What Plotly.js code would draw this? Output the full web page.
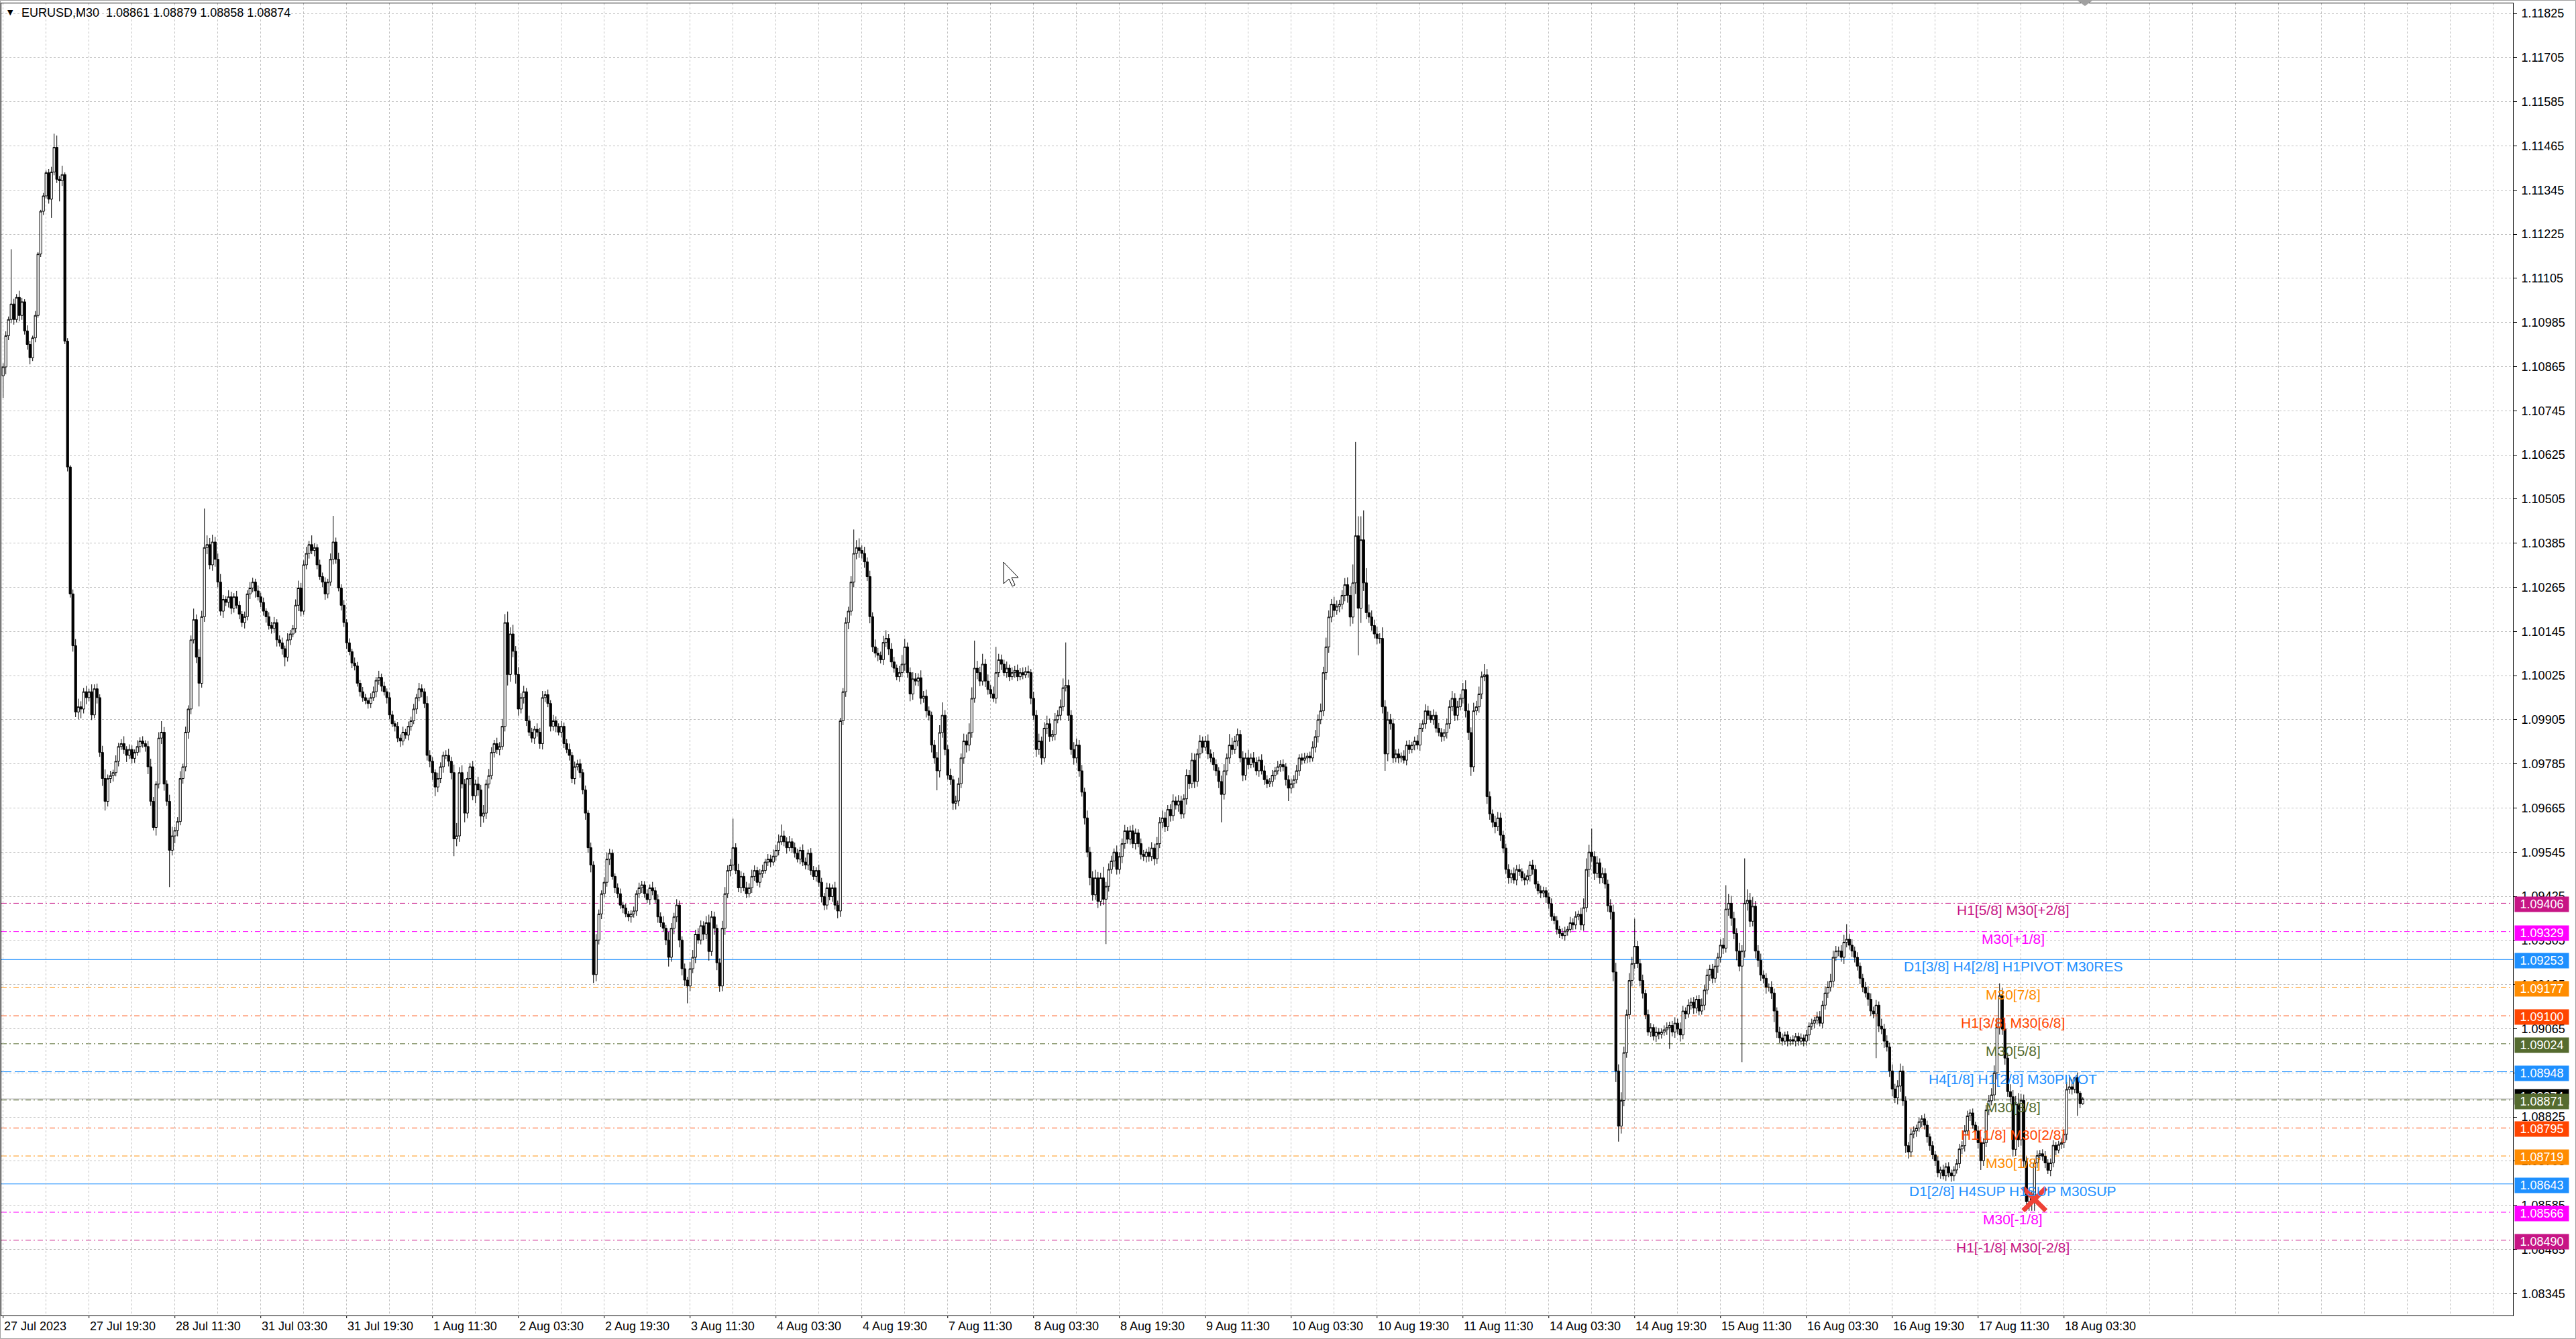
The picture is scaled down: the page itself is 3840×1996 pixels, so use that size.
<!DOCTYPE html>
<html><head><meta charset="utf-8">
<script src="https://cdn.plot.ly/plotly-3.0.1.min.js"></script>
<style>html,body{margin:0;padding:0;background:#fff;overflow:hidden}#chart{width:3840px;height:1996px}</style>
</head><body><div id="chart"></div>
<script>
// ---------------- DATA ----------------
const symbolName = "EURUSD,M30";
const basePrice = 1.08;          // prices below are stored in points (0.00001) above this base
const firstOpenPts = 2840;
// M30 closes, one per bar, 27 Jul 2023 03:30 -> 18 Aug 2023 07:00
const closePts = [
/*0*/2864,2949,2993,3035,2993,3053,3004,3041,2962,2925,
/*10*/2889,2943,3004,3171,3287,3329,3392,3320,3394,3461,
/*20*/3374,3370,3387,2934,2592,2247,2106,1926,1940,1934,
/*30*/1981,1965,1981,1918,1989,1965,1816,1745,1683,1745,
/*40*/1753,1761,1792,1832,1840,1824,1808,1824,1800,1816,
/*50*/1832,1847,1840,1832,1777,1683,1612,1730,1855,1871,
/*60*/1730,1683,1550,1589,1604,1628,1745,1777,1871,1934,
/*70*/2122,2177,2075,2004,2185,2373,2381,2326,2388,2341,
/*80*/2279,2200,2232,2224,2239,2208,2239,2216,2192,2169,
/*90*/2185,2247,2263,2279,2255,2239,2224,2200,2185,2161,
/*100*/2153,2169,2122,2114,2098,2075,2122,2138,2153,2216,
/*110*/2263,2200,2326,2357,2381,2365,2373,2326,2294,2279,
/*120*/2247,2279,2341,2388,2341,2263,2216,2169,2114,2090,
/*130*/2059,2051,2004,1981,1965,1957,1949,1965,1981,2012,
/*140*/2020,1996,1981,1965,1918,1894,1887,1855,1847,1871,
/*150*/1863,1887,1902,1934,1965,1989,1981,1949,1808,1792,
/*160*/1761,1722,1745,1777,1808,1808,1792,1761,1581,1589,
/*170*/1761,1730,1651,1745,1777,1698,1730,1714,1643,1651,
/*180*/1730,1753,1816,1840,1824,1832,1887,2169,2028,2138,
/*190*/2091,2028,1934,1965,1981,1902,1871,1855,1879,1871,
/*200*/1840,1965,1973,1949,1887,1902,1887,1871,1887,1840,
/*210*/1824,1808,1745,1777,1785,1761,1714,1651,1557,1510,
/*220*/1212,1306,1377,1432,1463,1526,1542,1479,1448,1432,
/*230*/1401,1393,1377,1369,1377,1385,1432,1448,1456,1432,
/*240*/1416,1448,1440,1416,1369,1353,1338,1306,1259,1338,
/*250*/1369,1401,1306,1228,1197,1181,1228,1259,1322,1306,
/*260*/1345,1322,1353,1275,1369,1338,1244,1181,1338,1432,
/*270*/1495,1510,1557,1495,1448,1479,1448,1432,1448,1479,
/*280*/1495,1463,1487,1495,1518,1526,1518,1534,1550,1573,
/*290*/1589,1573,1557,1573,1557,1542,1526,1550,1518,1510,
/*300*/1542,1495,1479,1495,1463,1424,1401,1448,1424,1448,
/*310*/1401,1385,1902,1981,2169,2200,2279,2357,2373,2365,
/*320*/2357,2334,2294,2185,2103,2086,2080,2068,2115,2126,
/*330*/2097,2062,2045,2022,2033,2056,2103,2033,1975,2016,
/*340*/2010,2019,1963,1969,1929,1917,1836,1801,1766,1870,
/*350*/1917,1824,1754,1742,1678,1684,1731,1801,1847,1836,
/*360*/1870,1963,2045,2033,2010,2056,2010,1987,1975,1963,
/*370*/2033,2068,2056,2033,2045,2022,2033,2039,2022,2033,
/*380*/2027,2036,2033,1963,1917,1824,1847,1801,1882,1894,
/*390*/1859,1865,1905,1917,1940,1992,1998,1917,1824,1801,
/*400*/1836,1766,1708,1638,1545,1475,1429,1475,1411,1475,
/*410*/1417,1452,1498,1521,1545,1498,1533,1568,1603,1580,
/*420*/1603,1568,1597,1568,1539,1533,1545,1533,1556,1527,
/*430*/1568,1626,1638,1614,1661,1644,1684,1673,1684,1649,
/*440*/1690,1754,1731,1795,1737,1812,1847,1830,1847,1812,
/*450*/1801,1783,1766,1737,1702,1766,1801,1836,1824,1847,
/*460*/1865,1801,1754,1801,1783,1801,1789,1766,1795,1766,
/*470*/1742,1731,1737,1754,1766,1777,1783,1777,1742,1719,
/*480*/1731,1742,1766,1801,1795,1801,1806,1801,1830,1859,
/*490*/1905,1929,2033,2103,2184,2219,2202,2213,2219,2243,
/*500*/2272,2243,2184,2277,2405,2208,2394,2277,2196,2184,
/*510*/2161,2138,2126,2126,1940,1812,1905,1894,1801,1812,
/*520*/1801,1806,1795,1836,1824,1836,1847,1836,1882,1894,
/*530*/1929,1917,1905,1917,1882,1870,1859,1870,1894,1940,
/*540*/1963,1917,1940,1963,1987,1929,1870,1777,1929,1940,
/*550*/1975,2022,2027,1696,1649,1626,1614,1638,1591,1556,
/*560*/1498,1475,1487,1469,1498,1492,1475,1469,1481,1510,
/*570*/1498,1458,1440,1434,1440,1423,1405,1370,1359,1335,
/*580*/1324,1318,1330,1335,1353,1347,1370,1376,1347,1394,
/*590*/1498,1545,1533,1487,1516,1475,1487,1458,1399,1382,
/*600*/1219,950,800,870,1000,1103,1196,1242,1289,1242,
/*610*/1196,1161,1103,1056,1068,1045,1056,1050,1056,1062,
/*620*/1068,1074,1056,1080,1064,1048,1113,1105,1129,1137,
/*630*/1121,1145,1113,1129,1170,1211,1227,1202,1235,1259,
/*640*/1292,1284,1390,1406,1365,1324,1276,1235,1276,1406,
/*650*/1414,1357,1398,1276,1251,1211,1202,1178,1178,1162,
/*660*/1113,1056,1040,1031,1048,1031,1035,1031,1044,1031,
/*670*/1040,1031,1048,1072,1080,1088,1097,1080,1129,1162,
/*680*/1178,1194,1259,1276,1276,1259,1300,1308,1292,1276,
/*690*/1259,1235,1202,1178,1162,1145,1113,1105,1129,1072,
/*700*/1064,1031,1015,950,901,877,909,950,869,747,
/*710*/730,779,787,795,812,820,803,771,747,722,
/*720*/706,673,681,665,690,673,665,681,698,738,
/*730*/747,787,828,836,803,787,755,706,755,844,
/*740*/869,885,945,1069,1155,1064,985,894,880,737,
/*750*/860,763,870,705,595,615,600,700,720,725,
/*760*/718,700,680,700,748,735,750,755,778,900,
/*770*/907,900,932,890,861,874];
// upper wick above the body, points
const upperWickPts = [
10,12,8,149,14,9,18,11,7,15,10,6,12,5,4,8,6,10,14,37,
32,9,24,6,8,5,12,18,22,15,10,16,8,20,12,14,9,18,25,11,
13,8,16,10,12,20,9,14,11,8,17,10,13,9,15,22,12,8,16,30,
14,10,18,25,9,12,20,8,15,10,12,30,14,22,16,106,25,18,20,14,
16,22,12,9,18,14,10,16,11,8,14,10,16,12,9,15,11,13,8,12,
10,15,9,12,14,8,18,11,9,16,20,14,12,18,10,25,12,9,14,11,
13,9,16,71,12,18,10,14,9,12,8,15,11,9,13,10,8,12,14,9,
18,10,12,9,14,11,8,12,10,15,9,13,11,14,10,16,12,9,20,14,
11,9,16,12,10,14,18,12,22,35,15,20,14,18,10,16,12,20,14,22,
12,18,14,10,16,12,20,23,30,18,25,14,20,12,16,10,14,12,9,16,
12,18,10,14,9,16,12,8,14,10,12,16,9,14,11,13,10,12,8,14,
10,16,12,9,14,18,12,10,8,12,14,9,11,8,10,12,9,14,11,10,
12,9,16,10,14,12,18,9,22,14,11,16,12,10,14,9,18,20,12,16,
14,12,18,22,16,14,10,12,20,18,14,16,79,12,18,14,10,16,12,18,
14,10,12,16,9,14,12,18,15,20,31,14,12,16,10,14,12,9,16,12,
10,14,12,9,16,12,10,14,12,9,16,12,8,10,14,12,16,65,20,25,
14,18,12,16,12,20,14,10,18,22,12,16,14,10,18,25,22,12,14,18,
16,12,20,14,18,12,10,14,16,20,35,14,12,18,10,14,16,12,20,18,
25,30,75,20,16,28,14,18,12,20,70,16,14,12,18,10,14,12,16,12,
14,12,16,10,18,14,20,12,16,22,14,12,18,14,20,25,117,16,14,20,
18,14,16,12,20,14,18,22,16,14,30,12,16,14,10,18,12,14,16,10,
14,16,12,10,14,12,9,14,16,12,18,14,20,16,12,14,18,12,16,14,
12,16,14,20,18,14,16,12,14,18,12,16,14,10,16,18,12,30,20,14,
16,12,18,14,22,12,16,14,10,16,14,12,9,14,11,16,12,14,10,12,
14,12,16,10,12,14,9,12,16,18,14,20,16,25,18,14,20,16,12,14,
18,20,25,50,255,53,64,80,40,22,18,16,20,14,30,18,22,16,14,12,
14,10,16,12,14,9,12,16,14,10,18,14,12,16,10,14,12,9,14,18,
20,14,16,12,18,25,20,14,22,16,20,14,29,16,14,12,18,16,14,12,
12,14,10,16,12,14,9,12,16,10,14,12,9,14,11,10,12,14,9,12,
10,14,12,9,16,12,14,10,18,25,30,20,64,14,18,12,16,14,12,18,
20,25,18,22,16,14,20,18,75,14,12,16,10,14,12,9,14,11,10,12,
14,10,12,16,12,18,14,10,16,12,14,10,12,18,14,16,12,14,18,12,
16,20,65,25,20,18,14,22,16,122,30,20,25,14,16,18,12,14,10,16,
12,10,14,12,9,10,8,12,9,10,12,9,14,10,12,9,14,16,12,18,
16,20,18,14,12,16,20,41,14,16,12,14,10,12,14,18,16,12,14,10,
20,14,16,12,18,14,16,20,14,12,10,14,12,9,12,10,14,12,9,12,
10,12,9,14,10,12,9,10,12,14,12,16,14,10,12,9,14,16,12,14,
16,18,20,25,33,20,16,14,20,18,22,30,18,16,12,14,10,12,14,10,
12,14,10,12,14,9,10,12,14,20,27,20,2,14,6,5];
// lower wick below the body, points
const lowerWickPts = [
60,20,12,10,14,8,16,12,10,14,18,9,12,6,8,10,7,12,51,9,
10,56,14,8,12,10,16,14,20,25,12,18,10,14,9,16,12,20,25,14,
12,16,10,14,9,12,18,10,14,12,9,16,11,14,20,12,8,22,12,16,
18,12,100,14,20,16,10,14,12,18,14,10,16,63,12,14,18,12,16,20,
14,12,18,10,14,16,12,9,14,12,16,10,14,12,18,10,13,12,16,11,
14,12,18,10,16,25,12,14,9,12,16,14,10,12,14,10,16,12,9,14,
16,12,10,14,12,9,14,12,16,10,14,12,9,13,11,10,14,12,9,15,
12,14,10,16,12,9,14,11,16,12,10,14,12,9,13,10,15,12,14,16,
20,25,14,12,16,10,14,18,47,20,16,12,25,14,18,12,20,16,30,18,
16,12,10,14,12,16,9,14,30,20,16,25,18,12,16,14,10,12,16,12,
14,16,12,10,14,12,16,9,14,12,10,14,12,16,10,14,12,18,14,20,
23,18,12,14,10,12,16,9,14,12,10,14,9,12,16,10,13,12,14,11,
10,14,12,9,16,12,10,14,25,12,16,14,20,18,16,47,14,12,16,10,
12,16,14,25,12,18,20,16,14,18,12,16,14,10,12,14,9,12,10,14,
12,10,14,12,9,11,14,10,12,14,9,12,16,10,14,12,9,14,11,12,
14,12,10,14,12,16,14,12,10,14,12,20,16,12,14,18,12,14,16,20,
14,16,12,18,14,12,16,10,14,12,16,14,12,10,14,12,18,14,20,16,
12,14,16,12,18,14,20,16,53,18,14,16,12,14,18,17,14,12,16,20,
16,14,12,18,14,12,16,14,12,10,14,12,16,10,14,12,9,14,12,10,
12,9,14,16,12,20,14,18,12,16,14,12,16,10,14,12,10,16,14,18,
14,16,12,18,14,20,16,14,18,12,16,122,14,12,16,14,12,18,14,12,
14,12,16,10,14,12,16,14,12,18,14,12,16,14,12,16,14,12,18,14,
12,16,14,12,18,14,12,16,10,14,12,16,14,18,76,14,12,16,14,12,
14,12,16,14,12,10,14,12,16,10,14,12,9,14,12,10,14,12,16,35,
14,12,10,14,12,9,14,12,10,14,16,12,14,20,16,14,18,12,16,14,
16,20,25,18,30,128,40,22,18,16,14,12,16,14,18,46,20,16,14,12,
14,12,9,14,12,10,14,12,16,10,14,12,9,14,12,10,14,12,16,14,
12,16,14,10,14,18,20,25,14,12,16,14,12,20,16,14,18,12,16,14,
12,16,14,10,14,12,9,14,12,16,14,12,10,14,12,16,14,12,10,14,
12,10,14,12,9,14,12,10,14,16,12,20,14,18,12,16,14,12,16,20,
25,30,42,20,16,14,12,16,14,12,16,14,12,10,14,12,16,14,12,10,
14,58,12,16,14,18,12,14,10,12,16,14,12,10,14,12,16,14,12,18,
14,16,12,18,20,16,25,14,261,18,20,16,14,20,18,16,14,18,12,16,
30,16,14,12,10,14,12,9,14,12,10,14,12,16,10,14,12,9,14,12,
14,12,16,10,14,12,18,14,12,16,14,12,16,14,12,18,14,12,120,16,
14,18,12,16,20,14,18,16,14,20,18,14,12,16,10,14,12,16,14,12,
14,12,16,10,14,12,16,14,10,12,14,16,12,14,10,12,16,25,14,12,
14,12,16,18,20,16,18,14,16,20,18,20,16,18,25,25,30,30,14,12,
12,14,10,16,12,14,9,12,14,16,12,14,10,62,12,3];
// time axis labels, one every 32 bars
const timeLabels = ["27 Jul 2023","27 Jul 19:30","28 Jul 11:30","31 Jul 03:30","31 Jul 19:30","1 Aug 11:30",
"2 Aug 03:30","2 Aug 19:30","3 Aug 11:30","4 Aug 03:30","4 Aug 19:30","7 Aug 11:30","8 Aug 03:30",
"8 Aug 19:30","9 Aug 11:30","10 Aug 03:30","10 Aug 19:30","11 Aug 11:30","14 Aug 03:30","14 Aug 19:30",
"15 Aug 11:30","16 Aug 03:30","16 Aug 19:30","17 Aug 11:30","18 Aug 03:30"];
// Murrey-math style levels
const levelPrices = [1.09406,1.09329,1.09253,1.09177,1.09100,1.09024,1.08948,1.08871,1.08795,1.08719,1.08643,1.08566,1.08490];
const levelLabels = ["H1[5/8] M30[+2/8]","M30[+1/8]","D1[3/8] H4[2/8] H1PIVOT M30RES","M30[7/8]","H1[3/8] M30[6/8]",
"M30[5/8]","H4[1/8] H1[2/8] M30PIVOT","M30[3/8]","H1[1/8] M30[2/8]","M30[1/8]","D1[2/8] H4SUP H1SUP M30SUP","M30[-1/8]","H1[-1/8] M30[-2/8]"];
const bidPrice = 1.08874;
const signalBar = [757];
const signalPrice = [1.08601];
const priceTickLow = 1.08345, priceTickStep = 0.0012, priceTickCount = 30;

// ---------------- STYLES ----------------
const VR='#C71585', MG='#FF00FF', BL='#1E90FF', OR='#FF8C00', RD='#FF4500', OL='#556B2F';
const levelColors = [VR,MG,BL,OR,RD,OL,BL,OL,RD,OR,BL,MG,VR];
const DD='8px,4px,2px,4px';
const levelDash = [DD,DD,'solid',DD,DD,DD,'15px,5px',DD,DD,DD,'solid',DD,DD];
const FONT = 'Liberation Sans, Arial, sans-serif';

// ---------------- BUILD ----------------
const n = closePts.length;
if (upperWickPts.length !== n || lowerWickPts.length !== n) throw new Error('length mismatch '+n+' '+upperWickPts.length+' '+lowerWickPts.length);
const X=[],O=[],Hh=[],Ll=[],C=[];
let prev = firstOpenPts;
const P = v => +(basePrice + v/1e5).toFixed(5);
for (let i=0;i<n;i++){
  const op = prev, cl = closePts[i];
  X.push(i); O.push(P(op)); C.push(P(cl));
  Hh.push(P(Math.max(op,cl)+upperWickPts[i]));
  Ll.push(P(Math.min(op,cl)-lowerWickPts[i]));
  prev = cl;
}

const W=3840, H=1996, L=2, T=5, R=94, B=35;
const plotW = W-L-R, plotH = H-T-B;
const px = x => (x-L)/plotW, py = y => 1-(y-T)/plotH;

const yTicks=[], yText=[];
for (let k=0;k<priceTickCount;k++){ const v=Math.round((priceTickLow+k*priceTickStep)*1e5)/1e5; yTicks.push(v); yText.push(v.toFixed(5)); }

const shapes=[], annotations=[];
// outer window border
shapes.push({type:'rect',xref:'paper',yref:'paper',x0:px(0.5),x1:px(3839.5),y0:py(1995.5),y1:py(0.5),line:{color:'#a0a0a0',width:1},layer:'above'});
// levels
levelPrices.forEach((p,i)=>{
  shapes.push({type:'line',xref:'paper',x0:0,x1:1,yref:'y',y0:p,y1:p,line:{color:levelColors[i],width:1,dash:levelDash[i]},layer:'below'});
});
// bid line
shapes.push({type:'line',xref:'paper',x0:0,x1:1,yref:'y',y0:bidPrice,y1:bidPrice,line:{color:'#a9a9a9',width:1},layer:'below'});
// time ticks
timeLabels.forEach((t,k)=>{
  shapes.push({type:'line',xref:'x',x0:k*32,x1:k*32,yref:'paper',y0:0,y1:-4/plotH,line:{color:'#000',width:1}});
  annotations.push({xref:'x',x:k*32,yref:'paper',y:0,yshift:-5,xanchor:'left',yanchor:'top',text:t,showarrow:false,font:{family:FONT,size:18,color:'#000'},borderpad:0});
});
// chart shift marker
shapes.push({type:'path',xref:'paper',yref:'paper',path:`M${px(3097)},${py(1)} L${px(3119)},${py(1)} L${px(3108)},${py(9)} Z`,fillcolor:'#a0a0a0',line:{width:0}});
// mouse cursor
const cur=[[0,0],[0,32],[8,25],[13,36],[17,34],[12,23],[22,23]];
const cx=1496, cy=838;
shapes.push({type:'path',xref:'paper',yref:'paper',path:'M'+cur.map(q=>px(cx+q[0])+','+py(cy+q[1])).join(' L')+' Z',fillcolor:'#fff',line:{color:'#000',width:1},layer:'above'});

// level texts
levelPrices.forEach((p,i)=>{
  annotations.push({xref:'x',x:749,yref:'y',y:p,xanchor:'center',yanchor:'top',yshift:3,text:levelLabels[i],showarrow:false,font:{family:FONT,size:21,color:levelColors[i]}});
});
// bid price box (under)
annotations.push({xref:'paper',x:1,xshift:2,xanchor:'left',yref:'y',y:bidPrice,yshift:3,yanchor:'middle',text:bidPrice.toFixed(5),showarrow:false,bgcolor:'#000',width:78,height:20,borderpad:1,align:'center',font:{family:FONT,size:18,color:'#fff'}});
// level price boxes
levelPrices.forEach((p,i)=>{
  annotations.push({xref:'paper',x:1,xshift:2,xanchor:'left',yref:'y',y:p,yshift:-2,yanchor:'middle',text:p.toFixed(5),showarrow:false,bgcolor:levelColors[i],width:78,height:20,borderpad:1,align:'center',font:{family:FONT,size:18,color:'#fff'}});
});
// header
const last=n-1;
annotations.push({xref:'paper',yref:'paper',x:px(9),y:py(19),xanchor:'left',yanchor:'middle',text:'▼',showarrow:false,font:{family:'DejaVu Sans',size:11,color:'#000'}});
annotations.push({xref:'paper',yref:'paper',x:px(30),y:py(19),xanchor:'left',yanchor:'middle',showarrow:false,
  text:symbolName+'\u00a0\u00a0'+[O[last],Hh[last],Ll[last],C[last]].map(v=>v.toFixed(5)).join(' '),font:{family:FONT,size:18,color:'#000'}});

const traces=[
 {type:'candlestick',x:X,open:O,high:Hh,low:Ll,close:C,
  increasing:{line:{color:'#000',width:1},fillcolor:'#fff'},
  decreasing:{line:{color:'#000',width:1},fillcolor:'#000'},
  whiskerwidth:0,hoverinfo:'skip',showlegend:false},
 {type:'scatter',mode:'markers',x:signalBar,y:signalPrice,hoverinfo:'skip',showlegend:false,
  marker:{symbol:'x-thin',size:34,color:'#EE4236',line:{width:7,color:'#EE4236'}}}
];

const gridC='#c0c0c0', gridD='3px,3px';
const layout={
 width:W,height:H,margin:{l:L,r:R,t:T,b:B,pad:0},
 paper_bgcolor:'#fff',plot_bgcolor:'#fff',showlegend:false,
 font:{family:FONT,size:18,color:'#000'},
 boxgap:0.2,boxgroupgap:0,
 xaxis:{range:[-0.675,935.3],tickmode:'linear',tick0:0,dtick:16,showticklabels:false,ticks:'',
   showgrid:true,gridcolor:gridC,griddash:gridD,gridwidth:1,zeroline:false,
   showline:true,linecolor:'#000',linewidth:1,mirror:true,rangeslider:{visible:false},fixedrange:true},
 yaxis:{side:'right',range:[1.082852,1.118524],tickmode:'array',tickvals:yTicks,ticktext:yText,
   ticks:'outside',ticklen:5,tickcolor:'#000',ticklabelstandoff:3,tickfont:{family:FONT,size:18,color:'#000'},
   showgrid:true,gridcolor:gridC,griddash:gridD,gridwidth:1,zeroline:false,
   showline:true,linecolor:'#000',linewidth:1,mirror:true,fixedrange:true},
 shapes:shapes,annotations:annotations
};
Plotly.newPlot('chart',traces,layout,{staticPlot:true,displayModeBar:false});
</script></body></html>
